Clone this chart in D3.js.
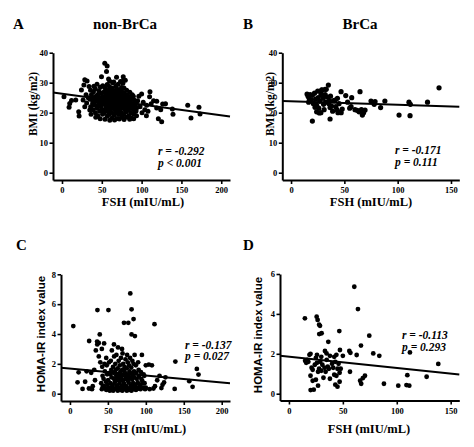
<!DOCTYPE html>
<html><head><meta charset="utf-8">
<script src="https://cdn.jsdelivr.net/npm/d3@7"></script>
<style>
html,body{margin:0;padding:0;background:#fff;}
svg{display:block;}
</style></head>
<body>
<svg id="chart" width="474" height="447"></svg>
<script>
// ---------------- DATA ----------------
const panelLetters = ["A", "B", "C", "D"];
const groupTitles = ["non-BrCa", "BrCa"];
const xLabel = "FSH (mIU/mL)";
const yLabels = ["BMI (kg/m2)", "BMI (kg/m2)", "HOMA-IR index value", "HOMA-IR index value"];
const rTexts = ["r = -0.292", "r = -0.171", "r = -0.137", "r = -0.113"];
const pTexts = ["p < 0.001", "p = 0.111", "p = 0.027", "p = 0.293"];

const fshTicksNon = [0, 50, 100, 150, 200];
const fshTicksBr = [0, 50, 100, 150];
const bmiTicks = [0, 10, 20, 30, 40];
const homaTicksNon = [0, 2, 4, 6, 8];
const homaTicksBr = [0, 2, 4, 6];

// regression lines: [intercept, slope]
const fitNonBmi = [26.3, -0.036];
const fitBrBmi = [23.8, -0.0114];
const fitNonHoma = [1.69, -0.0047];
const fitBrHoma = [1.85, -0.0056];

// [FSH, BMI] non-BrCa
const nonBrcaBmi = [
 [2.5,25.3],[8.9,21.8],[9.7,23.1],[12,24.1],[17.3,24.2],[21,20.3],[21.5,18.9],[24.4,27.6],[26.5,24.2],[28.6,22],[28.6,31],[31.5,30.6],[34,28.7],[34.9,20.9],[30.2,26],[33,25],[27.5,29.2],[31,23.2],
 [53.7,36.5],[56.7,35.6],[55.9,33.7],[49.6,32],[68.5,31.8],[76.9,32],[77.5,31],[60,30.5],[65,30.2],[44,29.5],[40,28.8],[58.5,31.2],
 [100,26.2],[110.5,27],[106.3,22.5],[93.6,19],[106,19],[118.9,21.6],[121,18],[125.2,17],[126.4,22.9],[138.6,21.2],[139.4,19.5],[157.9,22.5],[162,18.2],[172,21.8],[173.4,19.6],[95,24],[98,22],[102,23.5],[104,21],[112,23],[115,24],[108,20.5],[100.5,20],[96.5,25.5],[90,18],[85,17.8],[124,21],[130,23],[119,23.8],[110,25.3],
 [36,22],[35.2,24.5],[37,26],[36.5,19.5],[35.8,27.5],
 [39,21],[38.4,23],[40,25],[39.5,27],[38.8,23.8],
 [42,20],[41.3,22.5],[43,24],[42.6,25.5],[41.8,28],[42.4,18.5],
 [45,19],[44.2,21.5],[46,23],[45.5,24.5],[44.8,26],[46.3,27.2],[45.2,22.2],
 [48,18],[47.3,20.5],[49,22],[48.5,23.5],[47.6,25],[49.2,26.5],[48.2,28.5],[47.8,24.3],
 [51,19.5],[50.4,21],[52,22.8],[51.5,24],[50.7,25.3],[52.3,26.8],[51.2,29],[50.2,23.4],[52.6,20.2],
 [54,17.8],[53.2,20],[55,21.6],[54.5,23],[53.6,24.2],[55.3,25.5],[54.2,27],[53.8,28.3],[55.6,22.4],[54.8,26.2],
 [57,18.8],[56.3,20.6],[58,22],[57.5,23.4],[56.6,24.6],[58.2,25.8],[57.2,27.4],[56.8,29.4],[58.5,21.3],[57.8,26.6],
 [60,17.5],[59.3,19.6],[61,21.2],[60.5,22.6],[59.6,23.8],[61.2,25],[60.2,26.2],[59.8,27.6],[61.5,24.4],[60.8,20.4],[59.5,28.7],
 [63,18.3],[62.3,20.1],[64,21.8],[63.5,23.2],[62.6,24.5],[64.2,25.6],[63.2,26.9],[62.8,28.2],[64.5,22.5],[63.8,30],
 [66,17.6],[65.3,19.2],[67,20.8],[66.5,22.2],[65.6,23.6],[67.2,24.8],[66.2,26],[65.8,27.3],[67.5,28.8],[66.8,21.5],[65.4,25.3],
 [69,18.1],[68.3,19.8],[70,21.4],[69.5,22.8],[68.6,24],[70.2,25.2],[69.2,26.6],[68.8,28],[70.5,29.5],[69.8,23.4],[68.4,20.6],
 [72,17.9],[71.3,19.4],[73,21],[72.5,22.4],[71.6,23.8],[73.2,25],[72.2,26.2],[71.8,27.6],[73.5,30.4],[72.8,24.4],[71.4,20.2],
 [75,18.5],[74.3,20],[76,21.6],[75.5,23],[74.6,24.2],[76.2,25.6],[75.2,27],[74.8,28.4],[76.5,29.8],[75.8,22.2],[74.4,26.3],
 [78,17.7],[77.3,19.4],[79,21],[78.5,22.5],[77.6,23.9],[79.2,25.2],[78.2,26.6],[77.8,28.2],[79.5,30.8],[78.8,24.6],
 [81,18.6],[80.3,20.2],[82,21.8],[81.5,23.2],[80.6,24.6],[82.2,26],[81.2,27.5],[80.8,22.5],[82.5,25.3],
 [84,19],[83.3,20.8],[85,22.3],[84.5,23.8],[83.6,25.2],[85.2,26.8],[84.2,21.5],
 [87,18.2],[86.3,20],[88,21.6],[87.5,23.1],[86.6,24.5],[88.2,26],[87.2,22.3],
 [90,19.5],[89.3,21.2],[91,22.8],[90.5,24.2],[89.6,25.5],[91.2,20.4],
 [93,20.6],[92.3,22.3],[94,23.7],[93.5,21.5]
];

// [FSH, BMI] BrCa
const brcaBmi = [
 [15,26.2],[16,25.5],[17,24.8],[18,26],[16.5,23.5],[19,24.2],[20,25.8],[21,23],[22,26.5],[20,17.2],[23,24.5],[24,22.5],[25,27.2],[25.5,25],[26,21.5],[27,23.8],[28,26.3],[28,20],[29,27.5],[30,24.8],[30.5,22.8],[31,21],[32,26],[32.5,23.5],[33,27.8],[34,25.2],[35,29.2],[35.5,23],[36,24],[36.6,21.7],[36.6,17.9],[37,25.5],[38,22.2],[24,20.3],[26.5,19.9],[22.5,21.8],[29,25.8],[31.9,27.8],[28.8,27.6],[40,24],[41.3,24.2],[42,22],[43,21],[44,20],[45,23],[46,20.3],[46.9,27],[47,20],[48,21.2],[51.3,25.7],[53,23.5],[55,21.5],[56.3,22],[56.9,25],[60,21],[62,20.8],[63.8,20.3],[64.7,27],[66,21],[66.9,19.2],[68,20],[69.4,20.9],[75,23.9],[78,22.8],[78.8,23.7],[84,21.7],[88,23.9],[101.3,19.2],[110.6,23.5],[111.6,19],[111.9,22.8],[128,23.5],[138.8,28.3],[39,20.5],[43.5,24.8]
];

// [FSH, HOMA-IR] non-BrCa
const nonBrcaHoma = [
 [4.4,4.53],[11.4,1.43],[10,0.76],[16.6,0.32],[25,0.35],[29,0.3],[36.2,5.6],[50.7,5.6],[25.3,3.53],[35.8,3.49],[39.3,3.97],[34.1,2.9],[36,3.3],[45,3.37],[58,3.3],[79.5,6.72],[81.2,5.65],[83.8,5.0],[71.2,4.75],[76.9,4.75],[81.2,3.97],[85.6,3.86],[111.4,4.66],[94.8,2.6],[138.9,2.15],[167.2,1.66],[169.4,1.28],[157.2,0.84],[161.6,0.46],[138,0.32],[120.5,0.38],[122,0.6],[125.8,1.1],[124,0.75],[22,1.5],[20,0.8],[28,1.4],[32,1.6],[33,0.9],[30,0.5],[38,2.5],[40,2.1],[42,3.0],[38,3.4],[100,1.9],[104,1.95],[108,1.9],[105,0.3],[110,0.35],[115,0.9],[118,1.2],[112,0.5],[100,0.4],[98,1.2],[96,0.7],
 [42,0.3],[41.2,0.7],[43,1.2],[42.5,1.8],
 [45,0.5],[44.3,1.0],[46,1.5],[45.5,2.0],
 [48,0.25],[47.4,0.8],[49,1.3],[48.5,1.9],[47.8,2.4],
 [51,0.4],[50.3,0.9],[52,1.4],[51.5,2.1],
 [54,0.3],[53.3,0.7],[55,1.1],[54.5,1.6],[53.8,2.2],[55.2,2.9],
 [57,0.2],[56.3,0.6],[58,1.0],[57.5,1.4],[56.8,1.8],[58.2,2.5],
 [60,0.35],[59.3,0.8],[61,1.2],[60.5,1.6],[59.8,2.0],[61.2,2.6],
 [63,0.2],[62.3,0.5],[64,0.9],[63.5,1.3],[62.8,1.7],[64.2,2.2],[63.3,3.1],
 [66,0.3],[65.3,0.7],[67,1.1],[66.5,1.5],[65.8,1.9],[67.2,2.4],
 [69,0.2],[68.3,0.5],[70,0.85],[69.5,1.25],[68.8,1.6],[70.2,2.0],[69.3,2.7],[68.6,3.0],
 [72,0.3],[71.3,0.65],[73,1.0],[72.5,1.4],[71.8,1.8],[73.2,2.3],
 [75,0.2],[74.3,0.5],[76,0.9],[75.5,1.3],[74.8,1.7],[76.2,2.1],[75.3,2.6],
 [78,0.35],[77.3,0.75],[79,1.1],[78.5,1.5],[77.8,1.9],[79.2,2.4],
 [81,0.2],[80.3,0.55],[82,0.95],[81.5,1.35],[80.8,1.75],[82.2,2.2],
 [84,0.3],[83.3,0.7],[85,1.1],[84.5,1.5],[83.8,2.0],[85.2,2.6],
 [87,0.25],[86.3,0.6],[88,1.0],[87.5,1.4],[86.8,1.9],
 [90,0.35],[89.3,0.75],[91,1.2],[90.5,1.6],[89.8,2.1],
 [93,0.3],[92.3,0.6],[94,1.0],[93.5,1.45],
 [96,0.4],[95.3,0.85],[97,1.3],
 [99,0.3],[98.3,0.7],
 [43.5,0.5],[46.5,0.35],[49.5,0.6],[52.5,0.2],[55.5,0.45],[58.5,0.3],[61.5,0.55],[64.5,0.4],[67.5,0.25],[70.5,0.4],[73.5,0.45],[76.5,0.3],[79.5,0.25],[82.5,0.4],[85.5,0.45],[88.5,0.35],[91.5,0.5],[53,1.3],[59,1.45],[65,1.25],[71,1.55],[77,1.2],[83,1.25],[62,1.05],[68,0.95],[74,1.15],[80,1.05]
];

// [FSH, HOMA-IR] BrCa
const brcaHoma = [
 [60.6,5.36],[64,4.24],[14.8,3.78],[25.7,3.86],[26.6,3.7],[28,3.46],[28.8,3.4],[28.1,2.99],[30.3,3.03],[46.7,3.14],[36.5,2.6],[74.5,2.91],[66.8,2.41],[33.4,2.14],[34.9,2.02],[47.3,2.19],[56,2.14],[57,2.05],[62.8,1.94],[78.2,2.02],[83.8,1.9],[112.2,2.07],[138.5,1.49],[109.8,0.93],[127.7,0.85],[88.1,0.5],[101.4,0.4],[109,0.43],[111.6,0.4],[67,0.5],[66,0.65],[68.5,0.78],[70.5,0.9],[56.6,1.1],[45,0.35],[43,0.45],[47,0.6],[44,0.9],[20.1,0.18],
 [15,1.65],[16,1.55],[17,1.7],[18,1.6],[19,1.95],[20,2.0],[21,1.3],[22,1.2],[20,0.9],[22,0.65],[24,1.45],[25,1.8],[25,0.7],[26,1.95],[27,1.1],[27,0.4],[28,1.25],[29,1.6],[30,1.85],[30,1.15],[31,1.45],[32,0.8],[33,1.3],[34,1.1],[35,1.7],[36,1.35],[37,1.25],[38,0.75],[38,1.9],[40,1.5],[41,1.3],[42,0.95],[42,1.85],[43,1.6],[44,1.95],[45,1.25],[46,1.5],[47,1.05],[48,1.25],[50,1.9],[23,0.2],[26,1.55]
];

// ---------------- LAYOUT ----------------
const serif = "'Liberation Serif','Times New Roman',serif";
const sans = "'Liberation Sans',Arial,sans-serif";
const svg = d3.select("#chart");

const panels = [
 {data: nonBrcaBmi, fit: fitNonBmi, xTicks: fshTicksNon, yTicks: bmiTicks,
  xDom: [-11.3, 211], xRange: [53, 230], y0: 172.7, yTopVal: 40, yTopPx: 52.7, axisY: 180,
  letter: [13, 28.5], title: [125, 28.5], yl: [37, 104], ylFont: serif, ylSize: 11.5,
  ann: [158, 155, 167], r: 2.5, xl: [143, 206]},
 {data: brcaBmi, fit: fitBrBmi, xTicks: fshTicksBr, yTicks: bmiTicks,
  xDom: [-8.2, 157.8], xRange: [282.3, 459.3], y0: 172.7, yTopVal: 40, yTopPx: 52.7, axisY: 180,
  letter: [243, 28.5], title: [360, 28.5], yl: [274, 104], ylFont: serif, ylSize: 11.5,
  ann: [395, 154, 166], r: 2.6, xl: [371, 206]},
 {data: nonBrcaHoma, fit: fitNonHoma, xTicks: fshTicksNon, yTicks: homaTicksNon,
  xDom: [-11.8, 210.9], xRange: [61, 230], y0: 393.7, yTopVal: 8, yTopPx: 274.3, axisY: 401,
  letter: [16, 249.5], title: null, yl: [45, 334], ylFont: sans, ylSize: 11.5,
  ann: [185, 348.5, 359.5], r: 2.4, xl: [145, 433]},
 {data: brcaHoma, fit: fitBrHoma, xTicks: fshTicksBr, yTicks: homaTicksBr,
  xDom: [-8.3, 158], xRange: [280, 459.3], y0: 393.7, yTopVal: 6, yTopPx: 274, axisY: 400.5,
  letter: [243, 249.5], title: null, yl: [262, 335], ylFont: sans, ylSize: 11.5,
  ann: [402, 338.5, 350.5], r: 2.4, xl: [369, 433]}
];

panels.forEach((p, i) => {
  const g = svg.append("g");
  const x = d3.scaleLinear().domain(p.xDom).range(p.xRange);
  const pxPerUnit = (p.y0 - p.yTopPx) / p.yTopVal;
  const yMin = -(p.axisY - p.y0) / pxPerUnit;
  const y = d3.scaleLinear().domain([yMin, p.yTopVal]).range([p.axisY, p.yTopPx]);

  // points
  g.append("g").selectAll("circle").data(p.data).join("circle")
    .attr("cx", d => x(d[0])).attr("cy", d => y(d[1])).attr("r", p.r).attr("fill", "#000");

  // fit line
  const x0 = p.xDom[0], x1 = p.xDom[1];
  g.append("line")
    .attr("x1", x(x0)).attr("y1", y(p.fit[0] + p.fit[1] * x0))
    .attr("x2", x(x1)).attr("y2", y(p.fit[0] + p.fit[1] * x1))
    .attr("stroke", "#000").attr("stroke-width", 2);

  // axes
  const fmt = d3.format("d");
  const xAxis = g.append("g").attr("transform", `translate(0,${p.axisY})`)
    .call(d3.axisBottom(x).tickValues(p.xTicks).tickFormat(fmt).tickSize(4).tickSizeOuter(0).tickPadding(3));
  const yAxis = g.append("g").attr("transform", `translate(${p.xRange[0]},0)`)
    .call(d3.axisLeft(y).tickValues(p.yTicks).tickFormat(fmt).tickSize(3.5).tickSizeOuter(0).tickPadding(1.5));
  [xAxis, yAxis].forEach(a => {
    a.select(".domain").attr("stroke", "#000").attr("stroke-width", 2);
    a.selectAll(".tick line").attr("stroke", "#000").attr("stroke-width", 1.6);
    a.selectAll(".tick text").attr("fill", "#000")
      .style("font-family", serif).style("font-weight", "bold").style("font-size", "8.5px");
  });

  // panel letter
  svg.append("text").attr("x", p.letter[0]).attr("y", p.letter[1]).text(panelLetters[i])
    .style("font-family", serif).style("font-weight", "bold").style("font-size", "15px");
  if (p.title) {
    svg.append("text").attr("x", p.title[0]).attr("y", p.title[1]).attr("text-anchor", "middle")
      .text(groupTitles[i]).style("font-family", serif).style("font-weight", "bold").style("font-size", "15px");
  }
  // y label
  svg.append("text").attr("transform", `translate(${p.yl[0]},${p.yl[1]}) rotate(-90)`)
    .attr("text-anchor", "middle").text(yLabels[i])
    .style("font-family", p.ylFont).style("font-weight", "bold").style("font-size", p.ylSize + "px");
  // x label
  svg.append("text").attr("x", p.xl[0]).attr("y", p.xl[1]).attr("text-anchor", "middle")
    .text(xLabel).style("font-family", serif).style("font-weight", "bold").style("font-size", "12.5px");
  // annotations
  [rTexts[i], pTexts[i]].forEach((t, k) => {
    svg.append("text").attr("x", p.ann[0]).attr("y", p.ann[1 + k]).text(t)
      .style("font-family", serif).style("font-weight", "bold").style("font-style", "italic")
      .style("font-size", "11.5px");
  });
});
</script>
</body></html>
